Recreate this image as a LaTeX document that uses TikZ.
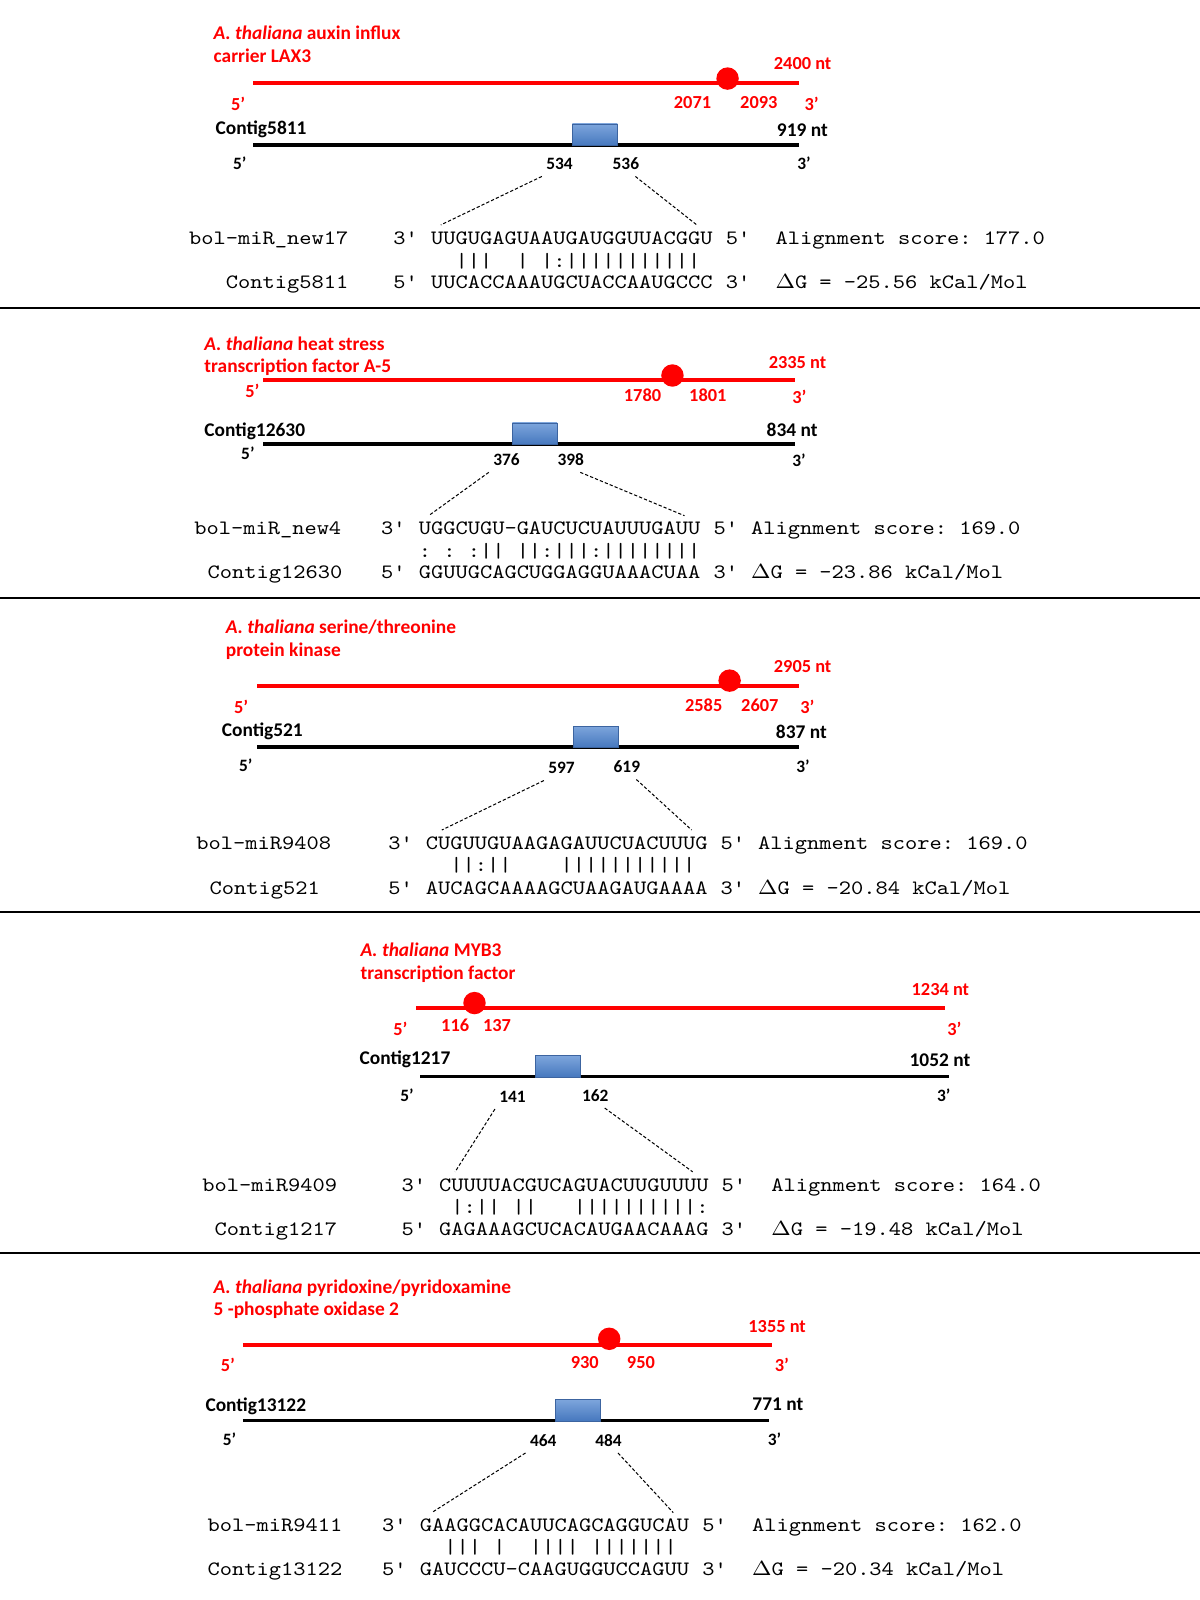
\documentclass[tikz,border=0pt]{standalone}
\usepackage{fontspec}
\setmainfont{Carlito}
\usetikzlibrary{positioning}
\definecolor{sitetop}{RGB}{125,165,220}
\definecolor{sitebot}{RGB}{70,120,190}
\definecolor{siteedge}{RGB}{60,100,160}
\newcommand{\sq}[1]{\scalebox{1.143}[1]{#1}}
\begin{document}
\begin{tikzpicture}[
    x=0.5pt, y=-0.5pt,
    gene/.style={red, line width=2pt},
    contig/.style={black, line width=1.6pt},
    lbl/.style={anchor=west, inner sep=0pt, text height=.65em, text depth=0pt, font={\bfseries\fontsize{9.5}{11}\selectfont}},
    title/.style={lbl, text=red},
    posn/.style={lbl, font={\bfseries\fontsize{8.5}{10}\selectfont}},
    rposn/.style={posn, text=red, font={\bfseries\fontsize{9}{10}\selectfont}},
    site/.style={draw=siteedge, top color=sitetop, bottom color=sitebot, minimum width=22pt, minimum height=10.5pt, inner sep=0pt},
    dot/.style={circle, fill=red, minimum size=11pt, inner sep=0pt},
    seq/.style={anchor=west, inner sep=0pt, text height=.62em, text depth=0pt, font={\ttfamily\frenchspacing\fontsize{10}{12}\selectfont}},
    link/.style={dash pattern=on 1.6pt off 1pt, line width=.5pt},
    sep/.style={line width=1pt}
]
    \useasboundingbox (0,0) rectangle (1176,1568);

    % --- LAX3 ---
    \node [title] (t1) at (209,32) {\textit{A. thaliana} auxin influx};
    \node [title] (t1b) at (209,55) {carrier LAX3};
    \coordinate (g1s) at (248,81);
    \coordinate (g1e) at (783,81);
    \draw [gene] (g1s) -- (g1e);
    \node [dot] (d1) at (713,77) {};
    \node [rposn] (l1) at (758,62) {2400 nt};
    \node [rposn] (g1a) at (226,102) {5’};
    \node [rposn] (r1a) at (660,100) {2071};
    \node [rposn] (r1b) at (725,100) {2093};
    \node [rposn] (g1b) at (788,102) {3’};
    \node [lbl] (n1) at (211,125) {Contig5811};
    \node [lbl] (k1) at (761,127) {919 nt};
    \coordinate (c1s) at (248,142);
    \coordinate (c1e) at (783,142);
    \draw [contig] (c1s) -- (c1e);
    \node [site] (x1) at (583,132) {};
    \node [posn] (e1a) at (228,160) {5’};
    \node [posn] (p1a) at (535,160) {534};
    \node [posn] (p1b) at (600,160) {536};
    \node [posn] (e1b) at (781,160) {3’};
    \node [seq] (m1) at (185,233) {\sq{bol-miR\_new17}};
    \node [seq] (s1) at (422,233) {\sq{UUGUGAGUAAUGAUGGUUACGGU}};
    \node [seq, left=6pt of s1] (s1l) {\sq{3'}};
    \node [seq, right=6pt of s1] (s1r) {\sq{5'}};
    \node [seq, right=12pt of s1r] (a1) {\sq{Alignment score: 177.0}};
    \node [seq] (b1) at (422,256) {\sq{~~|||~~|~|:|||||||||||}};
    \node [seq] (m1b) at (221,277) {\sq{Contig5811}};
    \node [seq] (u1) at (422,277) {\sq{UUCACCAAAUGCUACCAAUGCCC}};
    \node [seq, left=6pt of u1] (u1l) {\sq{5'}};
    \node [seq, right=6pt of u1] (u1r) {\sq{3'}};
    \node [seq, right=12pt of u1r] (dg1) {\sq{$\Delta$G = -25.56 kCal/Mol}};
    \draw [link] ([xshift=-2pt,yshift=-3pt]p1a.south west) -- ([xshift=5pt,yshift=3pt]s1.north west);
    \draw [link] ([xshift=-2pt,yshift=-3pt]p1b.south east) -- ([xshift=-8pt,yshift=3pt]s1.north east);
    \draw [sep] (0,302) -- (1176,302);

    % --- heat stress A-5 ---
    \node [title] (t2) at (200,337) {\textit{A. thaliana} heat stress};
    \node [title] (t2b) at (200,359) {transcription factor A-5};
    \coordinate (g2s) at (258,372);
    \coordinate (g2e) at (779,372);
    \draw [gene] (g2s) -- (g2e);
    \node [dot] (d2) at (659,368) {};
    \node [rposn] (l2) at (753,355) {2335 nt};
    \node [rposn] (g2a) at (240,383) {5’};
    \node [rposn] (r2a) at (611,387) {1780};
    \node [rposn] (r2b) at (675,387) {1801};
    \node [rposn] (g2b) at (776,389) {3’};
    \node [lbl] (n2) at (200,421) {Contig12630};
    \node [lbl] (k2) at (751,421) {834 nt};
    \coordinate (c2s) at (258,435);
    \coordinate (c2e) at (779,435);
    \draw [contig] (c2s) -- (c2e);
    \node [site] (x2) at (524,425) {};
    \node [posn] (e2a) at (236,444) {5’};
    \node [posn] (p2a) at (483,450) {376};
    \node [posn] (p2b) at (546,450) {398};
    \node [posn] (e2b) at (776,451) {3’};
    \node [seq] (m2) at (190,518) {\sq{bol-miR\_new4}};
    \node [seq] (s2) at (410,518) {\sq{UGGCUGU-GAUCUCUAUUUGAUU}};
    \node [seq, left=6pt of s2] (s2l) {\sq{3'}};
    \node [seq, right=6pt of s2] (s2r) {\sq{5'}};
    \node [seq, right=6pt of s2r] (a2) {\sq{Alignment score: 169.0}};
    \node [seq] (b2) at (410,540) {\sq{:~:~:||~||:|||:||||||||}};
    \node [seq] (m2b) at (203,561) {\sq{Contig12630}};
    \node [seq] (u2) at (410,561) {\sq{GGUUGCAGCUGGAGGUAAACUAA}};
    \node [seq, left=6pt of u2] (u2l) {\sq{5'}};
    \node [seq, right=6pt of u2] (u2r) {\sq{3'}};
    \node [seq, right=6pt of u2r] (dg2) {\sq{$\Delta$G = -23.86 kCal/Mol}};
    \draw [link] ([xshift=-2pt,yshift=-3pt]p2a.south west) -- ([xshift=5pt,yshift=3pt]s2.north west);
    \draw [link] ([xshift=-2pt,yshift=-3pt]p2b.south east) -- ([xshift=-8pt,yshift=3pt]s2.north east);
    \draw [sep] (0,586) -- (1176,586);

    % --- serine/threonine kinase ---
    \node [title] (t3) at (221,614) {\textit{A. thaliana} serine/threonine};
    \node [title] (t3b) at (221,637) {protein kinase};
    \coordinate (g3s) at (252,672);
    \coordinate (g3e) at (783,672);
    \draw [gene] (g3s) -- (g3e);
    \node [dot] (d3) at (715,667) {};
    \node [rposn] (l3) at (758,653) {2905 nt};
    \node [rposn] (g3a) at (229,693) {5’};
    \node [rposn] (r3a) at (671,691) {2585};
    \node [rposn] (r3b) at (726,691) {2607};
    \node [rposn] (g3b) at (784,693) {3’};
    \node [lbl] (n3) at (217,715) {Contig521};
    \node [lbl] (k3) at (760,717) {837 nt};
    \coordinate (c3s) at (252,732);
    \coordinate (c3e) at (783,732);
    \draw [contig] (c3s) -- (c3e);
    \node [site] (x3) at (584,722) {};
    \node [posn] (e3a) at (234,750) {5’};
    \node [posn] (p3a) at (537,752) {597};
    \node [posn] (p3b) at (601,751) {619};
    \node [posn] (e3b) at (780,751) {3’};
    \node [seq] (m3) at (192,826) {\sq{bol-miR9408}};
    \node [seq] (s3) at (417,826) {\sq{CUGUUGUAAGAGAUUCUACUUUG}};
    \node [seq, left=6pt of s3] (s3l) {\sq{3'}};
    \node [seq, right=6pt of s3] (s3r) {\sq{5'}};
    \node [seq, right=6pt of s3r] (a3) {\sq{Alignment score: 169.0}};
    \node [seq] (b3) at (417,848) {\sq{~~||:||~~~~|||||||||||}};
    \node [seq] (m3b) at (205,870) {\sq{Contig521}};
    \node [seq] (u3) at (417,870) {\sq{AUCAGCAAAAGCUAAGAUGAAAA}};
    \node [seq, left=6pt of u3] (u3l) {\sq{5'}};
    \node [seq, right=6pt of u3] (u3r) {\sq{3'}};
    \node [seq, right=6pt of u3r] (dg3) {\sq{$\Delta$G = -20.84 kCal/Mol}};
    \draw [link] ([xshift=-2pt,yshift=-3pt]p3a.south west) -- ([xshift=8pt,yshift=3pt]s3.north west);
    \draw [link] ([xshift=-2pt,yshift=-3pt]p3b.south east) -- ([xshift=-8pt,yshift=3pt]s3.north east);
    \draw [sep] (0,894) -- (1176,894);

    % --- MYB3 ---
    \node [title] (t4) at (353,931) {\textit{A. thaliana} MYB3};
    \node [title] (t4b) at (353,953) {transcription factor};
    \coordinate (g4s) at (408,988);
    \coordinate (g4e) at (926,988);
    \draw [gene] (g4s) -- (g4e);
    \node [dot] (d4) at (465,983) {};
    \node [rposn] (l4) at (893,969) {1234 nt};
    \node [rposn] (g4a) at (385,1008) {5’};
    \node [rposn] (r4a) at (432,1004) {116};
    \node [rposn] (r4b) at (473,1004) {137};
    \node [rposn] (g4b) at (928,1008) {3’};
    \node [lbl] (n4) at (352,1037) {Contig1217};
    \node [lbl] (k4) at (891,1039) {1052 nt};
    \coordinate (c4s) at (412,1055);
    \coordinate (c4e) at (930,1055);
    \draw [contig] (c4s) -- (c4e);
    \node [site] (x4) at (547,1045) {};
    \node [posn] (e4a) at (392,1073) {5’};
    \node [posn] (p4a) at (489,1074) {141};
    \node [posn] (p4b) at (570,1073) {162};
    \node [posn] (e4b) at (918,1073) {3’};
    \node [seq] (m4) at (198,1161) {\sq{bol-miR9409}};
    \node [seq] (s4) at (430,1161) {\sq{CUUUUACGUCAGUACUUGUUUU}};
    \node [seq, left=6pt of s4] (s4l) {\sq{3'}};
    \node [seq, right=6pt of s4] (s4r) {\sq{5'}};
    \node [seq, right=12pt of s4r] (a4) {\sq{Alignment score: 164.0}};
    \node [seq] (b4) at (430,1183) {\sq{~|:||~||~~~||||||||||:}};
    \node [seq] (m4b) at (210,1205) {\sq{Contig1217}};
    \node [seq] (u4) at (430,1205) {\sq{GAGAAAGCUCACAUGAACAAAG}};
    \node [seq, left=6pt of u4] (u4l) {\sq{5'}};
    \node [seq, right=6pt of u4] (u4r) {\sq{3'}};
    \node [seq, right=12pt of u4r] (dg4) {\sq{$\Delta$G = -19.48 kCal/Mol}};
    \draw [link] ([xshift=-2pt,yshift=-3pt]p4a.south west) -- ([xshift=8pt,yshift=3pt]s4.north west);
    \draw [link] ([xshift=-2pt,yshift=-3pt]p4b.south east) -- ([xshift=-8pt,yshift=3pt]s4.north east);
    \draw [sep] (0,1228) -- (1176,1228);

    % --- PDX oxidase 2 ---
    \node [title] (t5) at (209,1261) {\textit{A. thaliana} pyridoxine/pyridoxamine};
    \node [title] (t5b) at (209,1283) {5 -phosphate oxidase 2};
    \coordinate (g5s) at (238,1318);
    \coordinate (g5e) at (757,1318);
    \draw [gene] (g5s) -- (g5e);
    \node [dot] (d5) at (597,1312) {};
    \node [rposn] (l5) at (733,1299) {1355 nt};
    \node [rposn] (g5a) at (216,1338) {5’};
    \node [rposn] (r5a) at (559,1335) {930};
    \node [rposn] (r5b) at (614,1335) {950};
    \node [rposn] (g5b) at (759,1338) {3’};
    \node [lbl] (n5) at (201,1377) {Contig13122};
    \node [lbl] (k5) at (737,1376) {771 nt};
    \coordinate (c5s) at (238,1392);
    \coordinate (c5e) at (754,1392);
    \draw [contig] (c5s) -- (c5e);
    \node [site] (x5) at (566,1382) {};
    \node [posn] (e5a) at (218,1410) {5’};
    \node [posn] (p5a) at (519,1411) {464};
    \node [posn] (p5b) at (583,1411) {484};
    \node [posn] (e5b) at (752,1410) {3’};
    \node [seq] (m5) at (203,1495) {\sq{bol-miR9411}};
    \node [seq] (s5) at (411,1495) {\sq{GAAGGCACAUUCAGCAGGUCAU}};
    \node [seq, left=6pt of s5] (s5l) {\sq{3'}};
    \node [seq, right=6pt of s5] (s5r) {\sq{5'}};
    \node [seq, right=12pt of s5r] (a5) {\sq{Alignment score: 162.0}};
    \node [seq] (b5) at (411,1516) {\sq{~~|||~|~~||||~|||||||~}};
    \node [seq] (m5b) at (203,1538) {\sq{Contig13122}};
    \node [seq] (u5) at (411,1538) {\sq{GAUCCCU-CAAGUGGUCCAGUU}};
    \node [seq, left=6pt of u5] (u5l) {\sq{5'}};
    \node [seq, right=6pt of u5] (u5r) {\sq{3'}};
    \node [seq, right=12pt of u5r] (dg5) {\sq{$\Delta$G = -20.34 kCal/Mol}};
    \draw [link] ([xshift=-2pt,yshift=-3pt]p5a.south west) -- ([xshift=6pt,yshift=3pt]s5.north west);
    \draw [link] ([xshift=-2pt,yshift=-3pt]p5b.south east) -- ([xshift=-8pt,yshift=3pt]s5.north east);
\end{tikzpicture}
\end{document}
